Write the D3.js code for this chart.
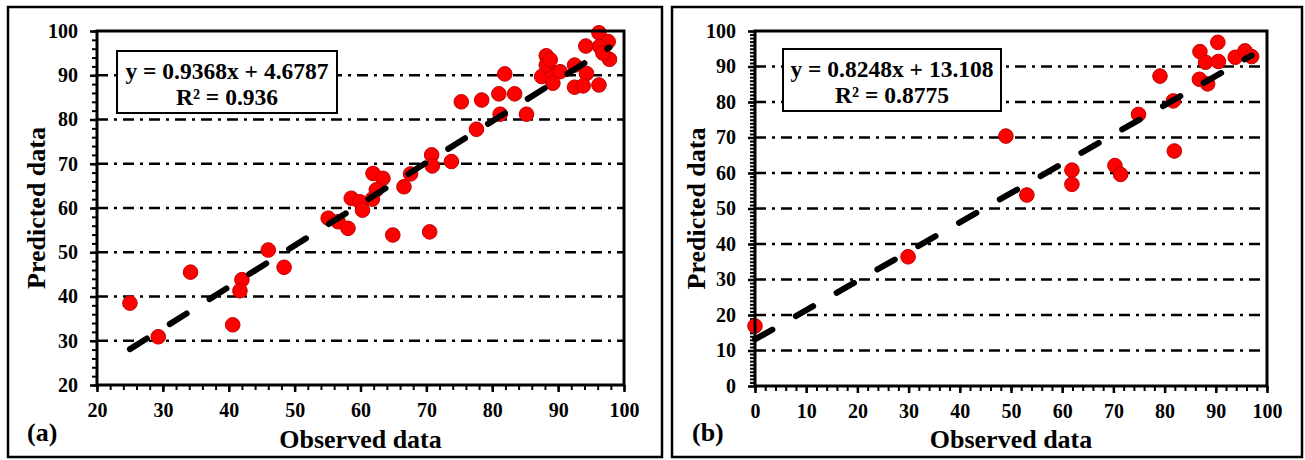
<!DOCTYPE html>
<html>
  <head>
    <title>Observed vs predicted</title>
    <script src="https://d3js.org/d3.v7.min.js"></script>
    <style>
      body { margin: 0; background: #fff; }
      text { font-family: "Liberation Serif", "Times New Roman", serif; font-weight: bold; }
    </style>
  </head>
  <body>
    <div id="chart"></div>
    <script>
      // panel (a) data
      var obsA = [25.0, 29.3, 34.2, 40.6, 42.0, 41.7, 46.0, 48.4, 55.1, 56.6, 58.1, 58.6, 59.9, 60.3,
        61.9, 63.4, 62.4, 61.8, 64.9, 66.6, 67.6, 70.8, 70.9, 70.5, 73.8, 77.6, 75.3, 78.4, 81.0,
        83.4, 81.9, 81.2, 85.2, 88.2, 87.5, 89.0, 90.3, 89.2, 88.2, 88.8, 92.5, 94.3, 92.5, 93.8,
        96.2, 94.2, 96.2, 97.6, 97.8, 96.3, 96.8];
      var predA = [38.5, 30.9, 45.5, 33.6, 43.8, 41.3, 50.5, 46.6, 57.7, 56.9, 55.4, 62.2, 61.4, 59.5,
        67.8, 66.7, 64.1, 62.0, 53.9, 64.8, 67.7, 72.0, 69.5, 54.6, 70.5, 77.8, 84.0, 84.4, 85.8,
        85.8, 90.3, 81.2, 81.2, 94.4, 89.7, 90.8, 90.8, 88.2, 92.3, 93.5, 92.3, 90.4, 87.3, 87.6,
        87.8, 96.6, 99.6, 97.6, 93.6, 96.5, 95.0];

      // panel (b) data
      var obsB = [0.0, 29.9, 49.0, 53.1, 61.9, 61.9, 70.3, 71.4, 74.9, 79.1, 81.7, 81.9, 86.8, 88.4,
        86.9, 88.0, 90.5, 90.4, 93.8, 95.7, 97.0];
      var predB = [16.9, 36.4, 70.4, 53.8, 60.8, 56.8, 62.1, 59.6, 76.5, 87.3, 80.3, 66.2, 86.4, 85.1,
        94.2, 91.2, 91.4, 96.8, 92.6, 94.4, 92.8];

      var xTicksA = [20, 30, 40, 50, 60, 70, 80, 90, 100];
      var yTicksA = [20, 30, 40, 50, 60, 70, 80, 90, 100];
      var xTicksB = [0, 10, 20, 30, 40, 50, 60, 70, 80, 90, 100];
      var yTicksB = [0, 10, 20, 30, 40, 50, 60, 70, 80, 90, 100];

      var fitA = { m: 0.9368, b: 4.6787, eq: "y = 0.9368x + 4.6787", r2: "R\u00b2 = 0.936" };
      var fitB = { m: 0.8248, b: 13.108, eq: "y = 0.8248x + 13.108", r2: "R\u00b2 = 0.8775" };

      var svg = d3.select("#chart").append("svg")
        .attr("width", 1305)
        .attr("height", 460);

      function drawPanel(p) {
        var g = svg.append("g");

        // outer frame
        g.append("rect")
          .attr("x", p.frame[0]).attr("y", p.frame[1])
          .attr("width", p.frame[2] - p.frame[0]).attr("height", p.frame[3] - p.frame[1])
          .attr("fill", "none").attr("stroke", "#000").attr("stroke-width", 2.5);

        var x = d3.scaleLinear().domain(p.xDom).range([p.left, p.right]);
        var y = d3.scaleLinear().domain(p.yDom).range([p.bottom, p.top]);

        // dash-dot gridlines
        g.selectAll(".grid")
          .data(p.yTicks.slice(1, -1))
          .enter().append("line")
          .attr("x1", p.left).attr("x2", p.right)
          .attr("y1", d => y(d)).attr("y2", d => y(d))
          .attr("stroke", "#000").attr("stroke-width", 2.3)
          .attr("stroke-dasharray", "11,6,3,6");

        // minor ticks
        g.append("g")
          .attr("transform", "translate(0," + p.bottom + ")")
          .call(d3.axisBottom(x).tickValues(d3.range(p.xDom[0], p.xDom[1] + 0.01, p.xMinor))
            .tickSize(5).tickSizeOuter(0).tickFormat(""))
          .call(s => s.select(".domain").remove())
          .selectAll("line").attr("stroke-width", 2);
        g.append("g")
          .attr("transform", "translate(" + p.left + ",0)")
          .call(d3.axisLeft(y).tickValues(d3.range(p.yDom[0], p.yDom[1] + 0.01, p.yMinor))
            .tickSize(5).tickSizeOuter(0).tickFormat(""))
          .call(s => s.select(".domain").remove())
          .selectAll("line").attr("stroke-width", 2);

        // major ticks + labels
        var xa = g.append("g")
          .attr("transform", "translate(0," + p.bottom + ")")
          .call(d3.axisBottom(x).tickValues(p.xTicks).tickSize(7).tickSizeOuter(0)
            .tickPadding(11).tickFormat(d3.format("d")));
        var ya = g.append("g")
          .attr("transform", "translate(" + p.left + ",0)")
          .call(d3.axisLeft(y).tickValues(p.yTicks).tickSize(7).tickSizeOuter(0)
            .tickPadding(12).tickFormat(d3.format("d")));
        [xa, ya].forEach(function (a) {
          a.select(".domain").remove();
          a.selectAll("line").attr("stroke-width", 2.5);
          a.selectAll("text")
            .attr("font-family", "Liberation Serif").attr("font-weight", "bold")
            .attr("font-size", 20).attr("fill", "#000");
        });

        // points
        g.selectAll(".pt")
          .data(p.obs)
          .enter().append("circle")
          .attr("cx", d => x(d))
          .attr("cy", (d, i) => y(p.pred[i]))
          .attr("r", 7.3)
          .attr("fill", "#ff0000")
          .attr("stroke", "#c00000")
          .attr("stroke-width", 1);

        // trendline
        var x0 = d3.min(p.obs), x1 = d3.max(p.obs);
        g.append("line")
          .attr("x1", x(x0)).attr("y1", y(p.fit.m * x0 + p.fit.b))
          .attr("x2", x(x1)).attr("y2", y(p.fit.m * x1 + p.fit.b))
          .attr("stroke", "#000").attr("stroke-width", 6)
          .attr("stroke-linecap", "round")
          .attr("stroke-dasharray", "20,27");

        // plot area border
        g.append("rect")
          .attr("x", p.left).attr("y", p.top)
          .attr("width", p.right - p.left).attr("height", p.bottom - p.top)
          .attr("fill", "none").attr("stroke", "#000").attr("stroke-width", 3);

        // equation box
        var b = p.box;
        g.append("rect")
          .attr("x", b[0]).attr("y", b[1])
          .attr("width", b[2] - b[0]).attr("height", b[3] - b[1])
          .attr("fill", "#fff").attr("stroke", "#000").attr("stroke-width", 2);
        var cx = (b[0] + b[2]) / 2;
        g.append("text").attr("x", cx).attr("y", b[1] + 28)
          .attr("text-anchor", "middle").attr("font-size", 23.5).text(p.fit.eq);
        g.append("text").attr("x", cx).attr("y", b[1] + 54)
          .attr("text-anchor", "middle").attr("font-size", 23.5).text(p.fit.r2);

        // axis titles
        g.append("text")
          .attr("x", (p.left + p.right) / 2).attr("y", 448)
          .attr("text-anchor", "middle").attr("font-size", 26)
          .text("Observed data");
        g.append("text")
          .attr("transform", "translate(" + p.yTitleX + "," + (p.top + p.bottom) / 2 + ") rotate(-90)")
          .attr("text-anchor", "middle").attr("font-size", 26)
          .text("Predicted data");

        // panel letter
        g.append("text")
          .attr("x", p.letterX).attr("y", 441)
          .attr("font-size", 26)
          .text(p.letter);
      }

      drawPanel({
        frame: [8, 7, 662, 457],
        left: 97, right: 624, top: 31, bottom: 385,
        xDom: [20, 100], yDom: [20, 100], xMinor: 2, yMinor: 2,
        xTicks: xTicksA, yTicks: yTicksA,
        obs: obsA, pred: predA, fit: fitA,
        box: [117, 51, 337, 113],
        yTitleX: 45, letterX: 27, letter: "(a)"
      });

      drawPanel({
        frame: [672, 7, 1302, 457],
        left: 755, right: 1267, top: 31, bottom: 386,
        xDom: [0, 100], yDom: [0, 100], xMinor: 2, yMinor: 1,
        xTicks: xTicksB, yTicks: yTicksB,
        obs: obsB, pred: predB, fit: fitB,
        box: [783, 49, 1001, 111],
        yTitleX: 705, letterX: 692, letter: "(b)"
      });
    </script>
  </body>
</html>
